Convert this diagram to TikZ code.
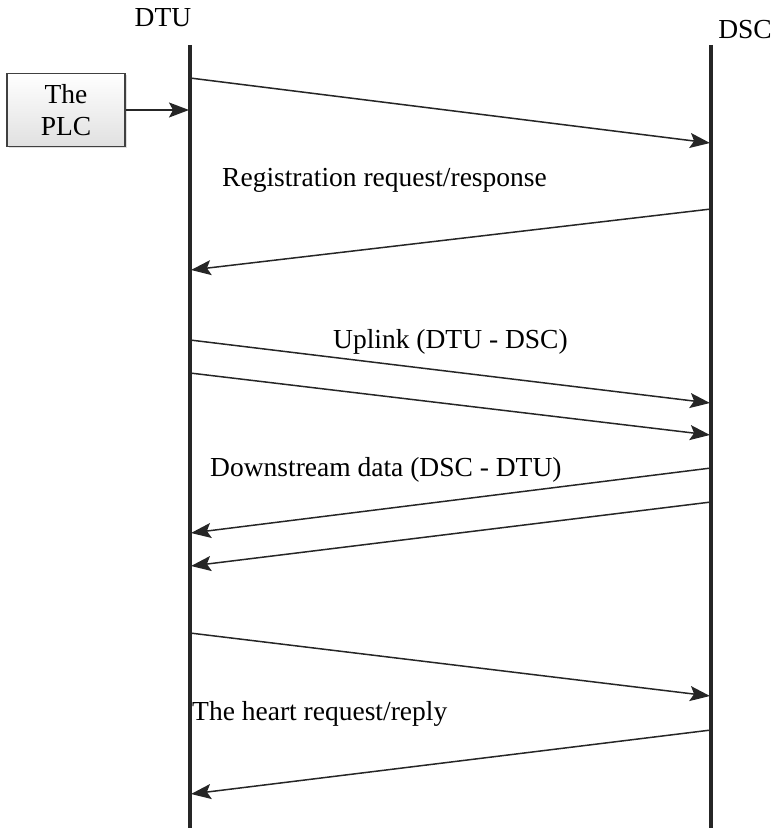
\documentclass[tikz,border=0pt]{standalone}
\usepackage{fontspec}
\setmainfont{Liberation Serif}
\usetikzlibrary{arrows.meta,shadows}
\begin{document}
\begin{tikzpicture}[x=1pt,y=-1pt,
  lifeline/.style={line width=3.5pt,draw=black!85},
  msg/.style={line width=1.5pt,draw=black!85,-{Stealth[length=20pt,width=15pt,inset=4pt]}},
  lbl/.style={font=\fontsize{27.5}{31}\selectfont,inner sep=0pt,anchor=west},
  plcbox/.style={draw=black!75,line width=1.4pt,top color=white,bottom color=black!12,
    minimum width=118pt,minimum height=73pt,align=center,font=\fontsize{27.5}{32}\selectfont,
    drop shadow={shadow xshift=2pt,shadow yshift=-2pt,opacity=0.25}}]
\useasboundingbox (0,0) rectangle (776,829);
% lifelines
\coordinate (dtuT) at (190,45);
\coordinate (dtuB) at (190,828);
\coordinate (dscT) at (711,45);
\coordinate (dscB) at (711,828);
\draw[lifeline] (dtuT) -- (dtuB);
\draw[lifeline] (dscT) -- (dscB);
\node[font=\fontsize{27.5}{31}\selectfont,inner sep=0pt] (dtu) at (163,18) {DTU};
\node[font=\fontsize{27.5}{31}\selectfont,inner sep=0pt] (dsc) at (745,30) {DSC};
% PLC box
\node[plcbox] (plc) at (66,110) {The\\PLC};
\coordinate (plcIn) at (189,110);
\draw[msg] (plc.east) -- (plcIn);
% message coordinates
\coordinate (m1a) at (190,78);  \coordinate (m1b) at (710,143);
\coordinate (m2a) at (711,209); \coordinate (m2b) at (191,270);
\coordinate (m3a) at (190,340); \coordinate (m3b) at (710,403);
\coordinate (m4a) at (190,373); \coordinate (m4b) at (710,435);
\coordinate (m5a) at (711,468); \coordinate (m5b) at (191,533);
\coordinate (m6a) at (711,502); \coordinate (m6b) at (191,566);
\coordinate (m7a) at (190,633); \coordinate (m7b) at (710,696);
\coordinate (m8a) at (711,730); \coordinate (m8b) at (191,794);
\foreach \i in {1,...,8} {\draw[msg] (m\i a) -- (m\i b);}
% labels
\node[lbl] (l1) at (222,180) {Registration request/response};
\node[lbl] (l2) at (333,342) {Uplink (DTU - DSC)};
\node[lbl] (l3) at (210,470) {Downstream data (DSC - DTU)};
\node[lbl] (l4) at (192,714) {The heart request/reply};
\end{tikzpicture}
\end{document}
